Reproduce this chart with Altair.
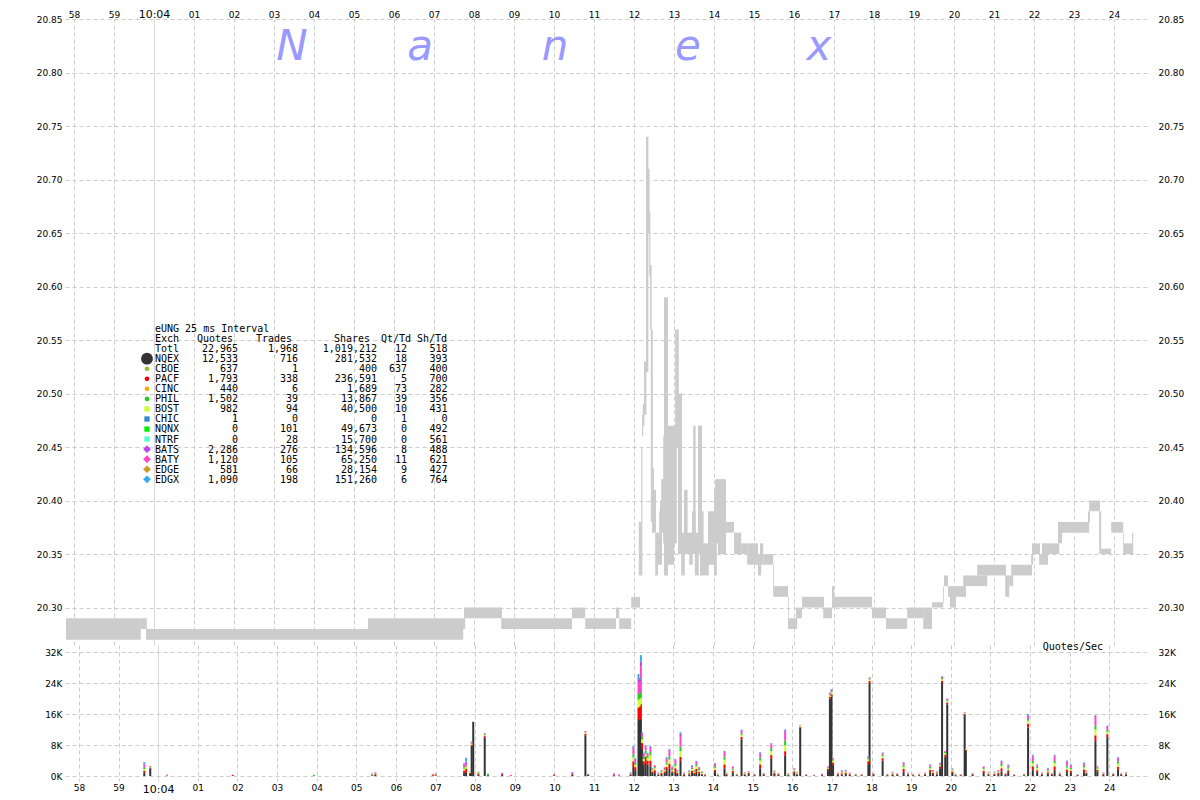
import altair as alt
import pandas as pd

# ---------------- axis ticks / labels ----------------
TICK_SECONDS = [-2, -1, 0, 1, 2, 3, 4, 5, 6, 7, 8, 9, 10, 11, 12, 13, 14, 15, 16, 17, 18, 19, 20, 21, 22, 23, 24]
TICK_LABELS = ["58", "59", "10:04", "01", "02", "03", "04", "05", "06", "07", "08", "09", "10",
               "11", "12", "13", "14", "15", "16", "17", "18", "19", "20", "21", "22", "23", "24"]
PRICE_TICKS = [20.30, 20.35, 20.40, 20.45, 20.50, 20.55, 20.60, 20.65, 20.70, 20.75, 20.80, 20.85]
QPS_TICKS = [0, 8, 16, 24, 32]  # thousands of quotes / sec

# ---------------- NBBO bands (seconds after 10:04:00, price low/high) ----------------
band_start = [-2.20, -0.33, -0.20, 5.35, 7.75, 8.68, 10.45, 10.78, 11.55, 11.63, 11.93,
              12.12, 12.18, 12.20, 12.22, 12.25, 12.30, 12.35, 12.38, 12.40, 12.42,
              12.45, 12.48, 12.53, 12.58, 12.63, 12.65, 12.68, 12.73, 12.75, 12.85,
              12.98, 13.03, 13.10, 13.18, 13.25, 13.32, 13.38, 13.45, 13.48, 13.52,
              13.60, 13.65, 13.72, 13.85, 14.00, 14.03, 14.10, 14.30, 14.50, 14.68,
              14.83, 15.10, 15.15, 15.23, 15.48, 15.48, 15.85, 15.85, 16.05, 16.20,
              16.73, 16.95, 16.95, 17.95, 18.30, 18.83, 19.23, 19.45, 19.73, 19.75,
              19.85, 19.90, 20.05, 20.23, 20.58, 21.28, 21.38, 21.43, 21.93, 21.95,
              22.13, 22.20, 22.60, 22.70, 23.35, 23.38, 23.63, 23.68, 23.93, 24.23,
              24.23, 24.45]
band_end = [-0.33, -0.18, 7.73, 7.78, 8.70, 10.45, 10.78, 11.55, 11.63, 11.93, 12.15,
            12.19, 12.21, 12.23, 12.26, 12.31, 12.36, 12.39, 12.41, 12.44, 12.47,
            12.50, 12.55, 12.60, 12.70, 12.70, 12.75, 12.75, 12.80, 12.85, 13.00,
            13.07, 13.12, 13.20, 13.27, 13.34, 13.40, 13.47, 13.54, 13.54, 13.62,
            13.70, 13.74, 13.87, 14.02, 14.07, 14.12, 14.30, 14.50, 14.68, 14.83,
            15.10, 15.18, 15.23, 15.48, 15.50, 15.85, 15.87, 16.08, 16.20, 16.75,
            16.95, 17.00, 17.95, 18.30, 18.83, 19.23, 19.45, 19.73, 19.75, 19.85,
            19.90, 20.05, 20.30, 20.83, 21.30, 21.38, 21.48, 21.95, 21.98, 22.15,
            22.35, 22.63, 22.70, 23.38, 23.40, 23.65, 23.68, 23.93, 24.23, 24.25,
            24.48, 24.48]
band_low = [20.27, 20.28, 20.27, 20.28, 20.29, 20.28, 20.29, 20.28, 20.29, 20.28, 20.30,
            20.33, 20.33, 20.46, 20.47, 20.48, 20.52, 20.65, 20.61, 20.56, 20.38,
            20.37, 20.37, 20.33, 20.34, 20.36, 20.37, 20.37, 20.36, 20.33, 20.34,
            20.36, 20.45, 20.35, 20.33, 20.35, 20.35, 20.34, 20.35, 20.36, 20.33,
            20.35, 20.33, 20.33, 20.34, 20.33, 20.36, 20.35, 20.37, 20.35, 20.35,
            20.34, 20.33, 20.34, 20.34, 20.32, 20.31, 20.29, 20.28, 20.29, 20.30,
            20.29, 20.30, 20.30, 20.29, 20.28, 20.29, 20.28, 20.300, 20.305, 20.32,
            20.31, 20.30, 20.31, 20.32, 20.33, 20.31, 20.32, 20.33, 20.34, 20.35,
            20.34, 20.35, 20.36, 20.37, 20.38, 20.39, 20.35, 20.350, 20.37, 20.36,
            20.35, 20.36]
band_high = [20.29, 20.29, 20.28, 20.29, 20.30, 20.29, 20.30, 20.29, 20.30, 20.29, 20.31,
             20.38, 20.45, 20.48, 20.49, 20.53, 20.74, 20.71, 20.67, 20.62, 20.56,
             20.43, 20.41, 20.37, 20.37, 20.39, 20.40, 20.42, 20.46, 20.59, 20.47,
             20.47, 20.56, 20.50, 20.37, 20.41, 20.37, 20.37, 20.39, 20.47, 20.37,
             20.47, 20.39, 20.36, 20.39, 20.41, 20.42, 20.42, 20.38, 20.37, 20.36,
             20.36, 20.35, 20.36, 20.35, 20.34, 20.32, 20.31, 20.29, 20.30, 20.31,
             20.30, 20.32, 20.31, 20.30, 20.29, 20.30, 20.30, 20.305, 20.32, 20.33,
             20.32, 20.32, 20.32, 20.33, 20.34, 20.33, 20.33, 20.34, 20.35, 20.36,
             20.35, 20.36, 20.38, 20.38, 20.39, 20.40, 20.39, 20.355, 20.38, 20.37,
             20.36, 20.37]

# ---------------- quotes per second (thousands), stacked by exchange ----------------
bar_t = [-0.35, -0.20, 0.22, 1.88, 3.93, 5.40, 5.48, 6.93, 7.00, 7.72,
         7.77, 7.87, 7.91, 7.95, 8.08, 8.24, 8.32, 8.68, 8.90, 9.99,
         10.45, 10.78, 10.85, 11.50, 11.63, 11.92, 11.99, 12.04, 12.12, 12.15,
         12.18, 12.21, 12.25, 12.30, 12.35, 12.42, 12.47, 12.53, 12.62, 12.70,
         12.78, 12.83, 12.90, 12.97, 13.05, 13.10, 13.18, 13.27, 13.40, 13.47,
         13.53, 13.58, 13.65, 13.72, 13.80, 14.05, 14.12, 14.29, 14.34, 14.50,
         14.60, 14.72, 14.80, 14.90, 15.05, 15.19, 15.28, 15.47, 15.55, 15.65,
         15.82, 15.90, 16.05, 16.12, 16.20, 16.35, 16.55, 16.75, 16.90, 16.95,
         16.99, 17.03, 17.15, 17.25, 17.35, 17.45, 17.60, 17.75, 17.92, 17.95,
         18.05, 18.28, 18.40, 18.53, 18.65, 18.81, 18.92, 19.05, 19.20, 19.35,
         19.48, 19.55, 19.65, 19.73, 19.78, 19.86, 19.91, 20.04, 20.12, 20.25,
         20.35, 20.38, 20.55, 20.83, 20.95, 21.10, 21.20, 21.28, 21.38, 21.45,
         21.60, 21.85, 21.95, 22.07, 22.18, 22.30, 22.45, 22.55, 22.62, 22.75,
         22.93, 23.03, 23.20, 23.36, 23.42, 23.65, 23.70, 23.85, 23.95, 24.10,
         24.22, 24.30, 24.42]
q_nqex = [0.8, 2.0, 0.1, 0, 0, 0.2, 0.3, 0.1, 0.1, 0.8,
          1.0, 0.5, 7.8, 14.0, 0.4, 10.0, 0.2, 0.3, 0, 0.1,
          0.4, 10.5, 0.3, 0.2, 0.1, 0.3, 2.3, 1.5, 14.7, 14.5,
          14.7, 7.0, 2.8, 3.5, 3.0, 2.5, 0.8, 1.0, 0.3, 0.5,
          0.8, 1.5, 2.0, 0.8, 1.2, 0.5, 3.9, 0.3, 0.4, 0.8,
          0.5, 1.2, 0.7, 0.4, 0.2, 1.0, 0.2, 2.0, 0.3, 0.8,
          0.2, 9.5, 0.4, 0.5, 0.2, 2.0, 0.3, 4.4, 0.5, 0.3,
          5.2, 0.3, 0.8, 0.4, 12.5, 0.2, 0.1, 0.2, 1.5, 20.0,
          20.5, 3.0, 0.3, 0.4, 0.5, 0.3, 0.2, 0.2, 3.0, 24.0,
          0.3, 4.0, 0.2, 0.3, 0.3, 1.0, 0.3, 0.2, 0.2, 0.3,
          1.0, 0.5, 0.4, 2.0, 24.0, 5.0, 18.5, 0.8, 0.2, 0.2,
          15.8, 6.5, 0.3, 0.8, 0.4, 0.3, 0.5, 1.2, 0.3, 1.0,
          0.2, 0.2, 12.5, 1.5, 1.0, 0.3, 0.6, 0.3, 1.5, 0.3,
          1.0, 0.8, 0.2, 1.0, 0.5, 9.0, 1.2, 0.3, 10.0, 0.3,
          1.6, 0.3, 0.4]
q_pacf = [0.6, 0.1, 0.1, 0.3, 0, 0.1, 0.2, 0.3, 0.3, 0.6,
          0.8, 0.3, 0.3, 0, 0.3, 0.3, 0, 0.2, 0, 0.3,
          0.1, 0.4, 0.1, 0.1, 0.1, 0.2, 1.5, 0.8, 3.0, 3.5,
          3.9, 1.5, 1.0, 1.5, 1.0, 1.5, 0.4, 0.5, 0.2, 0.3,
          0.4, 0.8, 1.2, 0.4, 0.8, 0.3, 1.0, 0.2, 0.3, 0.5,
          0.3, 0.6, 0.4, 0.2, 0.1, 0.6, 0.1, 1.0, 0.2, 0.5,
          0.1, 0.6, 0.2, 0.3, 0.1, 1.0, 0.2, 1.0, 0.3, 0.2,
          1.2, 0.1, 0.4, 0.2, 0.2, 0.1, 0.1, 0.2, 0.3, 0.4,
          0.6, 0.5, 0.2, 0.3, 0.3, 0.2, 0.1, 0.1, 0.8, 0.5,
          0.2, 0.6, 0.1, 0.2, 0.2, 0.8, 0.2, 0.1, 0.2, 0.2,
          0.6, 0.3, 0.3, 0.5, 0.6, 0.5, 0.5, 0.4, 0.1, 0.1,
          0.2, 0.3, 0.2, 0.5, 0.2, 0.3, 0.3, 0.8, 0.2, 0.5,
          0.1, 0.1, 1.0, 1.0, 0.5, 0.2, 0.4, 0.2, 1.0, 0.2,
          0.7, 0.5, 0.1, 0.7, 0.3, 1.5, 0.4, 0.2, 0.8, 0.2,
          0.8, 0.2, 0.2]
q_bost = [0.4, 0.1, 0.1, 0, 0, 0.1, 0.1, 0, 0.1, 0.5,
          0.6, 0.2, 0.2, 0, 0.2, 0.3, 0, 0, 0, 0,
          0, 0.3, 0, 0, 0, 0.1, 1.0, 0.6, 2.0, 2.0,
          1.6, 1.0, 0.6, 0.8, 0.7, 1.3, 0.3, 0.5, 0.1, 0.2,
          0.3, 0.7, 1.0, 0.3, 0.6, 0.2, 1.5, 0.1, 0.2, 0.5,
          0.3, 0.7, 0.4, 0.2, 0.1, 0.5, 0.1, 1.2, 0.2, 0.3,
          0.1, 0.5, 0.2, 0.1, 0, 1.0, 0.1, 1.0, 0.2, 0.1,
          1.5, 0.1, 0.3, 0.2, 0.3, 0.1, 0, 0, 0.2, 0.4,
          0.5, 0.5, 0.1, 0.2, 0.2, 0.1, 0.1, 0, 0.5, 0.4,
          0.1, 0.5, 0.1, 0.2, 0.1, 0.6, 0.1, 0.1, 0.1, 0.1,
          0.4, 0.2, 0.1, 0.3, 0.4, 0.4, 0.4, 0.3, 0.1, 0.1,
          0.2, 0.2, 0.1, 0.4, 0.2, 0.2, 0.2, 0.6, 0.1, 0.4,
          0.1, 0.1, 0.8, 0.8, 0.5, 0.1, 0.3, 0.1, 0.8, 0.1,
          0.5, 0.4, 0.1, 0.5, 0.2, 1.5, 0.3, 0.1, 0.6, 0.1,
          0.8, 0.1, 0.1]
q_phil = [0.3, 0.1, 0, 0, 0.3, 0.2, 0.1, 0, 0, 0.3,
          0.4, 0.1, 0.1, 0, 0.2, 0.2, 0.4, 0, 0, 0,
          0, 0.1, 0.1, 0, 0, 0.1, 0.8, 0.5, 1.5, 1.5,
          1.5, 0.6, 0.6, 0.8, 0.5, 0.9, 0.2, 0.3, 0.1, 0.2,
          0.3, 0.5, 0.8, 0.3, 0.5, 0.2, 1.2, 0.1, 0.2, 0.4,
          0.2, 0.5, 0.3, 0.2, 0.1, 0.4, 0.1, 0.8, 0.1, 0.3,
          0.1, 0.4, 0.1, 0.1, 0.1, 0.8, 0.1, 0.8, 0.2, 0.1,
          1.3, 0.1, 0.2, 0.1, 0.1, 0, 0, 0, 0.2, 0.2,
          0.3, 0.3, 0.1, 0.2, 0.2, 0.1, 0.1, 0.1, 0.4, 0.2,
          0.1, 0.4, 0.1, 0.1, 0.1, 0.5, 0.1, 0.1, 0, 0.1,
          0.4, 0.2, 0.2, 0.2, 0.3, 0.3, 0.2, 0.2, 0.1, 0,
          0.1, 0, 0.1, 0.3, 0.1, 0.1, 0.2, 0.5, 0.1, 0.4,
          0, 0.1, 0.4, 0.6, 0.4, 0.1, 0.2, 0.1, 0.6, 0.1,
          0.5, 0.4, 0, 0.4, 0.2, 1.0, 0.3, 0.1, 0.5, 0.1,
          0.6, 0.1, 0.1]
q_baty = [0.8, 0.3, 0.1, 0, 0, 0, 0.2, 0, 0.1, 0.8,
          0.6, 0.1, 0.3, 0, 0, 0.2, 0, 0.3, 0.3, 0,
          0.3, 0.3, 0.1, 0.4, 0.2, 0.2, 1.4, 0.8, 3.0, 2.5,
          6.5, 0.8, 0.7, 1.0, 0.6, 1.0, 0.3, 0.4, 0.2, 0.3,
          0.4, 1.0, 1.5, 0.4, 1.0, 0.3, 2.5, 0.2, 0.3, 0.4,
          0.2, 0.6, 0.4, 0.2, 0.1, 0.7, 0.1, 1.2, 0.1, 0.5,
          0.1, 0.7, 0.1, 0.2, 0.1, 1.0, 0.1, 1.0, 0.2, 0.1,
          2.2, 0.1, 0.3, 0.1, 0.1, 0.1, 0.1, 0.2, 0.3, 0.4,
          0.3, 0.3, 0.2, 0.3, 0.3, 0.2, 0.1, 0.1, 0.3, 0.3,
          0.1, 0.4, 0.1, 0.2, 0.1, 0.5, 0.2, 0.1, 0.1, 0.2,
          0.4, 0.3, 0.2, 0.3, 0.3, 0.2, 0.3, 0.2, 0.1, 0.1,
          0.1, 0, 0.1, 0.4, 0.2, 0.2, 0.3, 0.6, 0.1, 0.4,
          0.1, 0.1, 0.8, 1.2, 0.4, 0.2, 0.4, 0.1, 1.2, 0.2,
          1.0, 0.6, 0.1, 0.6, 0.2, 2.2, 0.3, 0.2, 0.8, 0.1,
          0.8, 0.1, 0.2]
q_bats = [0.3, 0, 0, 0, 0, 0, 0.1, 0, 0, 0.3,
          0.3, 0, 0.1, 0, 0, 0, 0, 0, 0, 0,
          0.2, 0, 0, 0, 0, 0, 0.4, 0.2, 1.0, 0.8,
          1.3, 0.2, 0.2, 0.3, 0.2, 0.3, 0, 0.1, 0, 0,
          0.1, 0.2, 0.3, 0.1, 0.2, 0, 0.8, 0, 0, 0.1,
          0, 0.2, 0.1, 0, 0, 0.1, 0, 0.2, 0, 0.1,
          0, 0.2, 0, 0, 0, 0.2, 0, 0.2, 0, 0,
          0.4, 0, 0, 0, 0, 0, 0, 0, 0, 0.1,
          0.1, 0, 0, 0, 0, 0, 0, 0, 0, 0,
          0, 0.1, 0, 0, 0, 0.1, 0, 0, 0, 0,
          0.1, 0, 0, 0.1, 0.1, 0.1, 0.1, 0, 0, 0,
          0.1, 0, 0, 0.1, 0, 0, 0, 0.2, 0, 0.2,
          0, 0, 0.2, 0.2, 0.1, 0, 0.1, 0, 0.2, 0,
          0.2, 0.2, 0, 0.2, 0, 0.3, 0, 0, 0.2, 0,
          0.2, 0, 0]
q_edgx = [0.4, 0, 0, 0, 0, 0.1, 0, 0.1, 0.1, 0,
          1.0, 0, 0.1, 0, 0, 0.1, 0, 0, 0, 0,
          0, 0, 0, 0.1, 0, 0.1, 0.3, 0.2, 1.1, 0.5,
          1.7, 0.2, 0.1, 0.1, 0, 0.2, 0, 0, 0, 0,
          0, 0.2, 0.2, 0.2, 0.1, 0, 0.4, 0, 0.1, 0.1,
          0, 0.1, 0, 0, 0, 0.1, 0, 0.1, 0, 0,
          0, 0.1, 0, 0, 0, 0.2, 0, 0.1, 0, 0,
          0.2, 0, 0, 0, 0, 0, 0, 0, 0, 0,
          0.1, 0, 0, 0.1, 0.1, 0, 0, 0, 0.2, 0.1,
          0, 0.1, 0, 0.1, 0, 0.1, 0, 0, 0, 0,
          0.1, 0, 0, 0, 0.1, 0, 0, 0.1, 0, 0,
          0, 0, 0, 0, 0, 0, 0, 0.1, 0, 0.1,
          0, 0, 0.3, 0.2, 0.1, 0, 0, 0, 0.2, 0,
          0.1, 0.1, 0, 0.1, 0, 0.2, 0, 0, 0.1, 0,
          0.1, 0, 0]

# ---------------- exchange summary table ----------------
EXCH = ["NQEX", "CBOE", "PACF", "CINC", "PHIL", "BOST", "CHIC", "NQNX", "NTRF", "BATS", "BATY", "EDGE", "EDGX"]
EXCH_COLORS = ["#333333", "#99bb33", "#ff0000", "#ffaa00", "#22cc22", "#ccff33", "#3388cc",
               "#00ee00", "#55ffcc", "#bb44ee", "#ff44cc", "#cc9922", "#33aaee"]
EXCH_SHAPES = ["circle", "circle", "circle", "circle", "circle", "square", "square", "square",
               "square", "diamond", "diamond", "diamond", "diamond"]
EXCH_SIZES = [140, 22, 22, 22, 22, 28, 28, 28, 28, 60, 60, 60, 60]
tbl_quotes = [12533, 637, 1793, 440, 1502, 982, 1, 0, 0, 2286, 1120, 581, 1090]
tbl_trades = [716, 1, 338, 6, 39, 94, 0, 101, 28, 276, 105, 66, 198]
tbl_shares = [281532, 400, 236591, 1689, 13867, 40500, 0, 49673, 15700, 134596, 65250, 28154, 151260]
tbl_qt_td = [18, 637, 5, 73, 39, 10, 1, 0, 0, 8, 11, 9, 6]
tbl_sh_td = [393, 400, 700, 282, 356, 431, 0, 492, 561, 488, 621, 427, 764]
TOTAL_ROW = ["Totl", 22965, 1968, 1019212, 12, 518]
TABLE_TITLE = "eUNG 25 ms Interval"
TABLE_HEADERS = ["Exch", "Quotes", "Trades", "Shares", "Qt/Td", "Sh/Td"]

# ---------------- build frames ----------------
price_df = pd.DataFrame({"t0": band_start, "t1": band_end, "lo": band_low, "hi": band_high})

series = [("NQEX", q_nqex), ("PACF", q_pacf), ("BOST", q_bost), ("PHIL", q_phil),
          ("BATY", q_baty), ("BATS", q_bats), ("EDGX", q_edgx)]
rows = []
for k, (name, vals) in enumerate(series):
    assert len(vals) == len(bar_t), name
    for t, v in zip(bar_t, vals):
        if v > 0:
            rows.append({"t": t, "exch": name, "q": v, "ord": k})
bar_df = pd.DataFrame(rows)

X_DOMAIN = [-2.225, 24.85]
xs = alt.Scale(domain=X_DOMAIN, nice=False, zero=False)
ys_price = alt.Scale(domain=[20.265, 20.85], nice=False, zero=False)
ys_qps = alt.Scale(domain=[-1.29, 33.81], nice=False, zero=False)

FONT = "DejaVu Sans"
MONO = "DejaVu Sans Mono"
GRID = "#cccccc"
label_expr = "[" + ",".join("'%s'" % s for s in TICK_LABELS) + "][datum.value + 2]"
grid_dash_x = {"condition": {"test": "datum.value === 0", "value": [1, 0]}, "value": [4, 3]}
x_label_size = {"condition": {"test": "datum.value === 0", "value": 11}, "value": 9}


def x_axis(orient):
    return alt.Axis(orient=orient, values=TICK_SECONDS, labelExpr=label_expr, grid=True,
                    gridColor=GRID, gridDash=grid_dash_x, ticks=False, domain=False,
                    labelPadding=0 if orient == "top" else 2, labelFont=FONT,
                    labelFontSize=x_label_size, labelColor="black", title=None,
                    labelOverlap=False, labelFlush=False)


def y_axis(orient, values, fmt=None, expr=None):
    kw = dict(orient=orient, values=values, grid=(orient == "left"), gridColor=GRID,
              gridDash=[4, 3], ticks=False, domain=False, labelFont=FONT, labelFontSize=9,
              labelColor="black", title=None, labelPadding=3 if orient == "left" else 10)
    if orient == "left":
        kw.update(minExtent=57, maxExtent=57)
    if fmt:
        kw["format"] = fmt
    if expr:
        kw["labelExpr"] = expr
    return alt.Axis(**kw)


# ---------------- top: price ----------------
price = alt.Chart(price_df).mark_rect(color="#cccccc").encode(
    x=alt.X("t0:Q", scale=xs, axis=x_axis("top")), x2="t1:Q",
    y=alt.Y("lo:Q", scale=ys_price, axis=y_axis("left", PRICE_TICKS, fmt=".2f")), y2="hi:Q")
price_r = alt.Chart(price_df).mark_rule(opacity=0).encode(
    y=alt.Y("lo:Q", scale=ys_price, axis=y_axis("right", PRICE_TICKS, fmt=".2f")))


def text_layer(txt, x, y, align="left", font=MONO, size=10, color="black", **kw):
    return alt.Chart(pd.DataFrame({"txt": [txt]})).mark_text(
        align=align, baseline="alphabetic", font=font, fontSize=size, color=color,
        lineBreak="\n", lineHeight=10.05, **kw).encode(
        text="txt:N", x=alt.value(x), y=alt.value(y))


B0 = 313
LH = 10.05
table_layers = [text_layer(TABLE_TITLE, 90, B0)]
hdr_x = [90, 168, 227, 305, 346, 382]
for i, h in enumerate(TABLE_HEADERS):
    table_layers.append(text_layer(h, hdr_x[i], B0 + LH, align="left" if i == 0 else "right"))
cols = [
    [TOTAL_ROW[0]] + EXCH,
    ["{:,}".format(v) for v in [TOTAL_ROW[1]] + tbl_quotes],
    ["{:,}".format(v) for v in [TOTAL_ROW[2]] + tbl_trades],
    ["{:,}".format(v) for v in [TOTAL_ROW[3]] + tbl_shares],
    ["{:,}".format(v) for v in [TOTAL_ROW[4]] + tbl_qt_td],
    ["{:,}".format(v) for v in [TOTAL_ROW[5]] + tbl_sh_td],
]
col_x = [90, 173, 233, 312, 342, 382.5]
for i, c in enumerate(cols):
    table_layers.append(text_layer("\n".join(c), col_x[i], B0 + 2 * LH,
                                   align="left" if i == 0 else "right"))

marker_df = pd.DataFrame({"exch": EXCH, "row": list(range(len(EXCH)))})
markers = alt.Chart(marker_df).mark_point(filled=True, opacity=1, strokeWidth=0).encode(
    x=alt.value(82),
    y=alt.Y("row:Q", scale=alt.Scale(domain=[0, 12], range=[339.7, 460.3]), axis=None),
    color=alt.Color("exch:N", scale=alt.Scale(domain=EXCH, range=EXCH_COLORS), legend=None),
    shape=alt.Shape("exch:N", scale=alt.Scale(domain=EXCH, range=EXCH_SHAPES), legend=None),
    size=alt.Size("exch:N", scale=alt.Scale(type="ordinal", domain=EXCH, range=EXCH_SIZES),
                  legend=None),
)

WATERMARK = ["N", "a", "n", "e", "x"]
wm_x = [227, 355, 490, 623, 754]
watermark = [
    alt.Chart(pd.DataFrame({"txt": [ch]})).mark_text(
        align="center", baseline="alphabetic", font=FONT, fontSize=42, fontStyle="italic",
        color="#9999ff").encode(text="txt:N", x=alt.value(wm_x[i]), y=alt.value(41))
    for i, ch in enumerate(WATERMARK)
]

top = alt.layer(price, price_r, *watermark, *table_layers, markers).resolve_scale(
    y="independent").resolve_axis(y="independent").properties(width=1083, height=626)

# ---------------- bottom: quotes / sec ----------------
k_expr = "datum.value + 'K'"
bars = alt.Chart(bar_df).mark_bar(size=2).encode(
    x=alt.X("t:Q", scale=xs, axis=x_axis("bottom")),
    y=alt.Y("q:Q", stack="zero", scale=ys_qps, axis=y_axis("left", QPS_TICKS, expr=k_expr)),
    color=alt.Color("exch:N", scale=alt.Scale(domain=EXCH, range=EXCH_COLORS), legend=None),
    order=alt.Order("ord:Q", sort="ascending"),
)
bars_r = alt.Chart(bar_df).mark_rule(opacity=0).encode(
    y=alt.Y("q:Q", scale=ys_qps, axis=y_axis("right", QPS_TICKS, expr=k_expr)),
)
qps_label = alt.Chart(pd.DataFrame({"txt": ["Quotes/Sec"]})).mark_text(
    align="right", baseline="middle", font=MONO, fontSize=10, color="black").encode(
    text="txt:N", x=alt.value(1038), y=alt.value(2))

bottom = alt.layer(bars, bars_r, qps_label).resolve_scale(y="independent").resolve_axis(
    y="independent").properties(width=1083, height=136)

chart = alt.vconcat(top, bottom, spacing=0, bounds="flush").properties(
    padding=0).configure_view(stroke=None)

chart.save("out.html", embed_options={"renderer": "svg", "actions": False})
